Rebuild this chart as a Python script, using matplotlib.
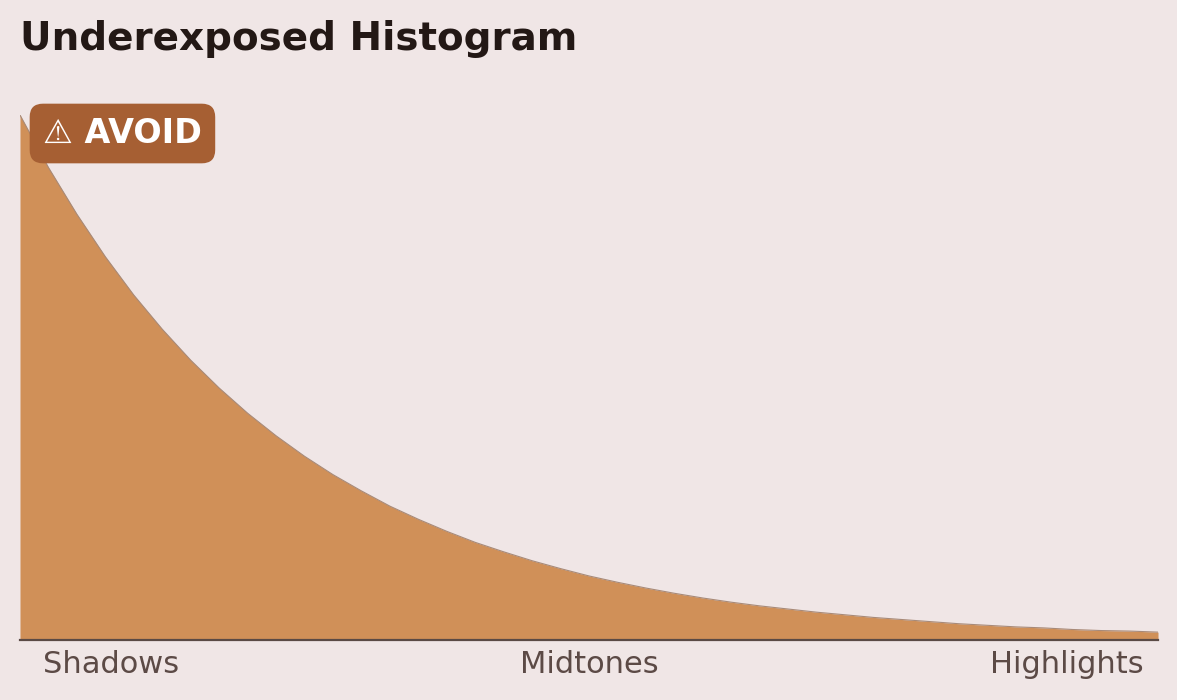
"""Underexposed histogram: tonal distribution piled up in the shadows."""
import matplotlib.pyplot as plt
from matplotlib.transforms import blended_transform_factory

# tonal position (0 = black, 1 = white) and relative pixel count
TONE = [
    0.000, 0.025, 0.050, 0.075, 0.100, 0.125, 0.150, 0.175, 0.200, 0.225,
    0.250, 0.275, 0.300, 0.325, 0.350, 0.375, 0.400, 0.425, 0.450, 0.475,
    0.500, 0.525, 0.550, 0.575, 0.600, 0.625, 0.650, 0.675, 0.700, 0.725,
    0.750, 0.775, 0.800, 0.825, 0.850, 0.875, 0.900, 0.925, 0.950, 0.975,
    1.000,
]
COUNT = [
    1.000, 0.900, 0.811, 0.730, 0.657, 0.592, 0.533, 0.480, 0.432, 0.389,
    0.350, 0.315, 0.284, 0.255, 0.230, 0.207, 0.186, 0.168, 0.151, 0.136,
    0.122, 0.110, 0.099, 0.089, 0.080, 0.072, 0.065, 0.059, 0.053, 0.048,
    0.043, 0.039, 0.035, 0.031, 0.028, 0.025, 0.023, 0.020, 0.018, 0.017,
    0.015,
]
ZONE_POS = [0.08, 0.50, 0.92]
ZONE_LABELS = ["Shadows", "Midtones", "Highlights"]

BG = "#f0e6e6"
FILL = "#d09058"
EDGE = "#a88a78"
BADGE = "#a65f33"
TITLE_C = "#231815"
LABEL_C = "#5c4a46"
AXIS_C = "#5a4a45"

W, H = 1177, 700

fig = plt.figure(figsize=(W / 100, H / 100), dpi=100, facecolor=BG)
ax = fig.add_axes([20 / W, 60 / H, 1138 / W, 525 / H])
ax.set_facecolor(BG)

ax.fill_between(TONE, COUNT, 0, color=FILL, linewidth=0, zorder=2)
ax.plot(TONE, COUNT, color=EDGE, linewidth=0.8, zorder=3)

ax.set_xlim(0, 1)
ax.set_ylim(0, 1)
ax.set_xticks([])
ax.set_yticks([])
for side in ("top", "left", "right"):
    ax.spines[side].set_visible(False)
ax.spines["bottom"].set_color(AXIS_C)
ax.spines["bottom"].set_linewidth(1.6)
ax.spines["bottom"].set_zorder(4)

# zone labels under the axis
trans = blended_transform_factory(ax.transData, fig.transFigure)
for pos, lab in zip(ZONE_POS, ZONE_LABELS):
    ax.text(pos, 1 - 673 / H, lab, transform=trans, ha="center", va="baseline",
            fontsize=22, color=LABEL_C, clip_on=False)

fig.text(20 / W, 1 - 50 / H, "Underexposed Histogram", ha="left", va="baseline",
         fontsize=28, fontweight="bold", color=TITLE_C)

# warning badge
fig.text(43 / W, 1 - 143 / H, "\u26a0 AVOID", ha="left", va="baseline",
         fontsize=24, fontweight="bold", color="white", zorder=10,
         bbox=dict(boxstyle="round,pad=0.4,rounding_size=0.4",
                   facecolor=BADGE, edgecolor="none"))

fig.savefig("out.png", dpi=100, facecolor=BG)
